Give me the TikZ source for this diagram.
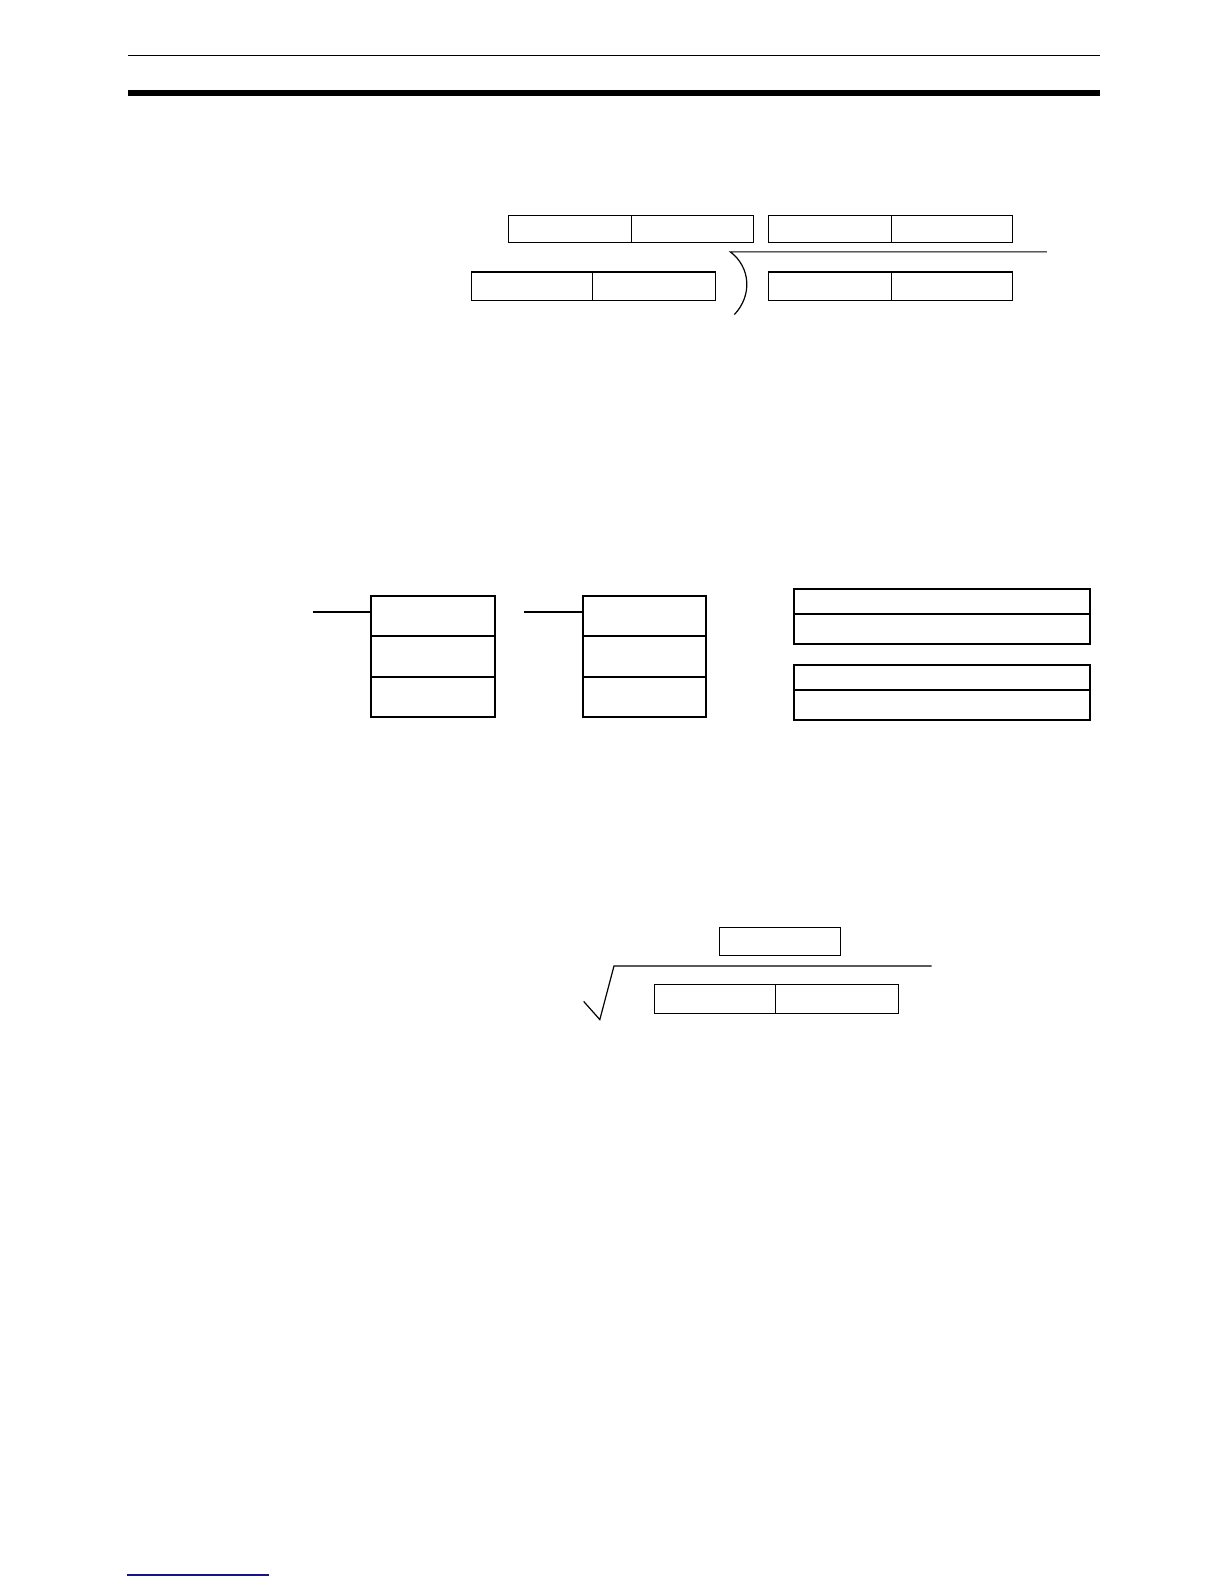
\documentclass[tikz,border=0pt]{standalone}
\definecolor{linkblue}{RGB}{20,20,140}
\begin{document}
\begin{tikzpicture}[x=1.0115pt,y=-1.0115pt,
  cell/.style={draw, line width=1.2pt, inner sep=0pt, outer sep=0pt, anchor=north west},
  heavy/.style={draw, line width=2pt, inner sep=0pt, outer sep=0pt, anchor=north west},
  thinline/.style={line width=1.2pt},
  heavyline/.style={line width=2pt}]
\useasboundingbox (0pt,0pt) rectangle (1224pt,-1584pt);
% header rules
\coordinate (h1) at (127,55); \coordinate (h2) at (1087,55);
\draw[line width=1.5pt] (h1) -- (h2);
\coordinate (b1) at (127,92); \coordinate (b2) at (1087,92);
\draw[line width=6pt] (b1) -- (b2);
% top division layout
\node[cell, minimum width=122.4pt, minimum height=27.3pt] (A1) at (503,213) {};
\node[cell, minimum width=122.4pt, minimum height=27.3pt] (A2) at (624,213) {};
\node[cell, minimum width=122.4pt, minimum height=27.3pt] (B1) at (760,213) {};
\node[cell, minimum width=121.4pt, minimum height=27.3pt] (B2) at (881,213) {};
\node[cell, minimum width=121.4pt, minimum height=28.3pt] (C1) at (466,269) {};
\node[cell, minimum width=122.4pt, minimum height=28.3pt] (C2) at (586,269) {};
\node[cell, minimum width=122.4pt, minimum height=28.3pt] (D1) at (760,269) {};
\node[cell, minimum width=121.4pt, minimum height=28.3pt] (D2) at (881,269) {};
\coordinate (v1) at (722,249); \coordinate (v2) at (1035,249);
\coordinate (v3) at (726,311);
\draw[thinline] (v2) -- (v1) .. controls (742,264) and (744,292) .. (v3);
% ladder symbols
\node[heavy, minimum width=123.4pt, minimum height=40.5pt] (L1a) at (367,589) {};
\node[heavy, minimum width=123.4pt, minimum height=40.5pt] (L1b) at (367,629) {};
\node[heavy, minimum width=123.4pt, minimum height=40.5pt] (L1c) at (367,669) {};
\coordinate (in1) at (309,605);
\draw[heavyline] (in1) -- (in1 -| L1a.west);
\node[heavy, minimum width=123.4pt, minimum height=40.5pt] (L2a) at (576,589) {};
\node[heavy, minimum width=123.4pt, minimum height=40.5pt] (L2b) at (576,629) {};
\node[heavy, minimum width=123.4pt, minimum height=40.5pt] (L2c) at (576,669) {};
\coordinate (in2) at (518,605);
\draw[heavyline] (in2) -- (in2 -| L2a.west);
\node[heavy, minimum width=296.4pt, minimum height=25.3pt] (R1a) at (785,582) {};
\node[heavy, minimum width=296.4pt, minimum height=30.3pt] (R1b) at (785,607) {};
\node[heavy, minimum width=296.4pt, minimum height=25.3pt] (R2a) at (785,657) {};
\node[heavy, minimum width=296.4pt, minimum height=30.3pt] (R2b) at (785,682) {};
% square root layout
\node[cell, minimum width=121.4pt, minimum height=28.3pt] (S0) at (711,917) {};
\node[cell, minimum width=121.4pt, minimum height=29.3pt] (S1) at (647,973) {};
\node[cell, minimum width=122.4pt, minimum height=29.3pt] (S2) at (767,973) {};
\coordinate (r1) at (577,990); \coordinate (r2) at (593,1008);
\coordinate (r3) at (607,955); \coordinate (r4) at (921,955);
\draw[thinline, line join=miter] (r1) -- (r2) -- (r3) -- (r4);
% footer link rule
\coordinate (f1) at (125.5,1557); \coordinate (f2) at (266,1557);
\draw[linkblue, line width=1.5pt] (f1) -- (f2);
\end{tikzpicture}
\end{document}
